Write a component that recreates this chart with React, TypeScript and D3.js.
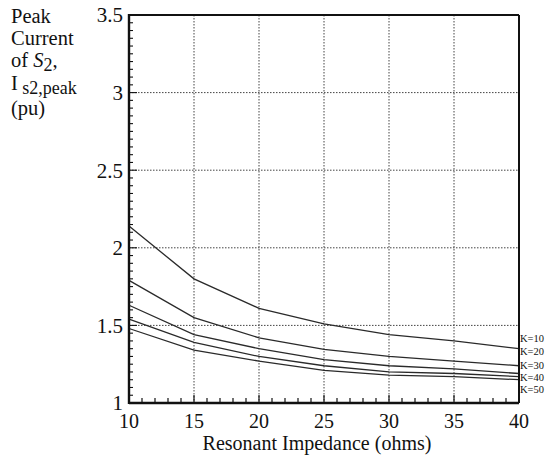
import React from "react";
import * as d3 from "d3";

const impedance = [10, 15, 20, 25, 30, 35, 40];
const seriesNames = ["K=10", "K=20", "K=30", "K=40", "K=50"];
const k10 = [2.14, 1.8, 1.61, 1.51, 1.44, 1.4, 1.35];
const k20 = [1.79, 1.55, 1.42, 1.345, 1.3, 1.27, 1.24];
const k30 = [1.63, 1.44, 1.35, 1.28, 1.24, 1.22, 1.19];
const k40 = [1.54, 1.39, 1.3, 1.24, 1.2, 1.19, 1.17];
const k50 = [1.48, 1.34, 1.27, 1.21, 1.18, 1.17, 1.15];
const seriesValues = [k10, k20, k30, k40, k50];
// label anchor heights in data units (where the legend text sits at the right edge)
const labelAnchors = [1.415, 1.335, 1.245, 1.165, 1.085];
const xTicks = [10, 15, 20, 25, 30, 35, 40];
const yTicks = [1, 1.5, 2, 2.5, 3, 3.5];
const yTickLabels = ["1", "1.5", "2", "2.5", "3", "3.5"];

const W = 551;
const H = 464;
const L = 129, R = 519, T = 15, B = 403;
const font = "'Liberation Serif', 'Times New Roman', serif";

export default function App() {
  const x = d3.scaleLinear().domain([10, 40]).range([L, R]);
  const y = d3.scaleLinear().domain([1, 3.5]).range([B, T]);
  const line = d3
    .line<number>()
    .x((_, i) => x(impedance[i]))
    .y((d) => y(d));

  const xMinor = d3.range(10, 40.001, 1);
  const yMinor = d3.range(1, 3.5001, 0.05);

  return (
    <svg
      width={W}
      height={H}
      style={{ position: "absolute", left: 0, top: 0, background: "#fff" }}
      fontFamily={font}
    >
      <rect x={0} y={0} width={W} height={H} fill="#fff" />
      {/* grid */}
      {xTicks.slice(1, -1).map((t) => (
        <line key={"gx" + t} x1={x(t)} x2={x(t)} y1={T} y2={B} stroke="#444" strokeWidth={1} strokeDasharray="1.5,1.5" />
      ))}
      {yTicks.slice(1, -1).map((t) => (
        <line key={"gy" + t} x1={L} x2={R} y1={y(t)} y2={y(t)} stroke="#444" strokeWidth={1} strokeDasharray="1.5,1.5" />
      ))}
      {/* minor ticks */}
      {xMinor.map((t) => (
        <line key={"xm" + t} x1={x(t)} x2={x(t)} y1={B} y2={B - (t % 5 === 0 ? 8 : 5)} stroke="#111" strokeWidth={1.2} />
      ))}
      {yMinor.map((t, i) => (
        <line key={"ym" + i} x1={L} x2={L + (i % 10 === 0 ? 8 : 4)} y1={y(t)} y2={y(t)} stroke="#111" strokeWidth={1.1} />
      ))}
      {/* series */}
      {seriesValues.map((vals, i) => (
        <path key={seriesNames[i]} d={line(vals) || ""} fill="none" stroke="#2a2a2a" strokeWidth={1.3} />
      ))}
      {/* frame */}
      <line x1={L} x2={R} y1={T} y2={T} stroke="#111" strokeWidth={1.8} />
      <line x1={R} x2={R} y1={T} y2={B} stroke="#111" strokeWidth={2} />
      <line x1={L} x2={L} y1={T - 1} y2={B + 1} stroke="#111" strokeWidth={2.4} />
      <line x1={L} x2={R} y1={B} y2={B} stroke="#111" strokeWidth={2.4} />
      {/* y tick labels */}
      {yTicks.map((t, i) => (
        <text key={"yl" + t} x={L - 6} y={y(t)} dy="0.35em" textAnchor="end" fontSize={21} fill="#111">
          {yTickLabels[i]}
        </text>
      ))}
      {/* x tick labels */}
      {xTicks.map((t) => (
        <text key={"xl" + t} x={x(t)} y={B + 25} textAnchor="middle" fontSize={20} fill="#111">
          {t}
        </text>
      ))}
      <text x={(L + R) / 2 - 7} y={B + 47} textAnchor="middle" fontSize={20} fill="#111">
        Resonant Impedance (ohms)
      </text>
      {/* y axis title */}
      <g fontSize={20.5} fill="#111">
        <text x={11} y={23}>Peak</text>
        <text x={11} y={45}>Current</text>
        <text x={11} y={67}>
          of <tspan fontStyle="italic">S</tspan>
          <tspan dy={4} fontSize={18}>2</tspan>
          <tspan dy={-4}>,</tspan>
        </text>
        <text x={11} y={90}>
          I<tspan dy={4} fontSize={18}> s2,peak</tspan>
        </text>
        <text x={11} y={115}>(pu)</text>
      </g>
      {/* series labels */}
      {seriesNames.map((n, i) => (
        <text key={"lab" + n} x={R + 1} y={y(labelAnchors[i])} dy="0.35em" fontSize={10.5} fill="#111">
          {n}
        </text>
      ))}
    </svg>
  );
}
